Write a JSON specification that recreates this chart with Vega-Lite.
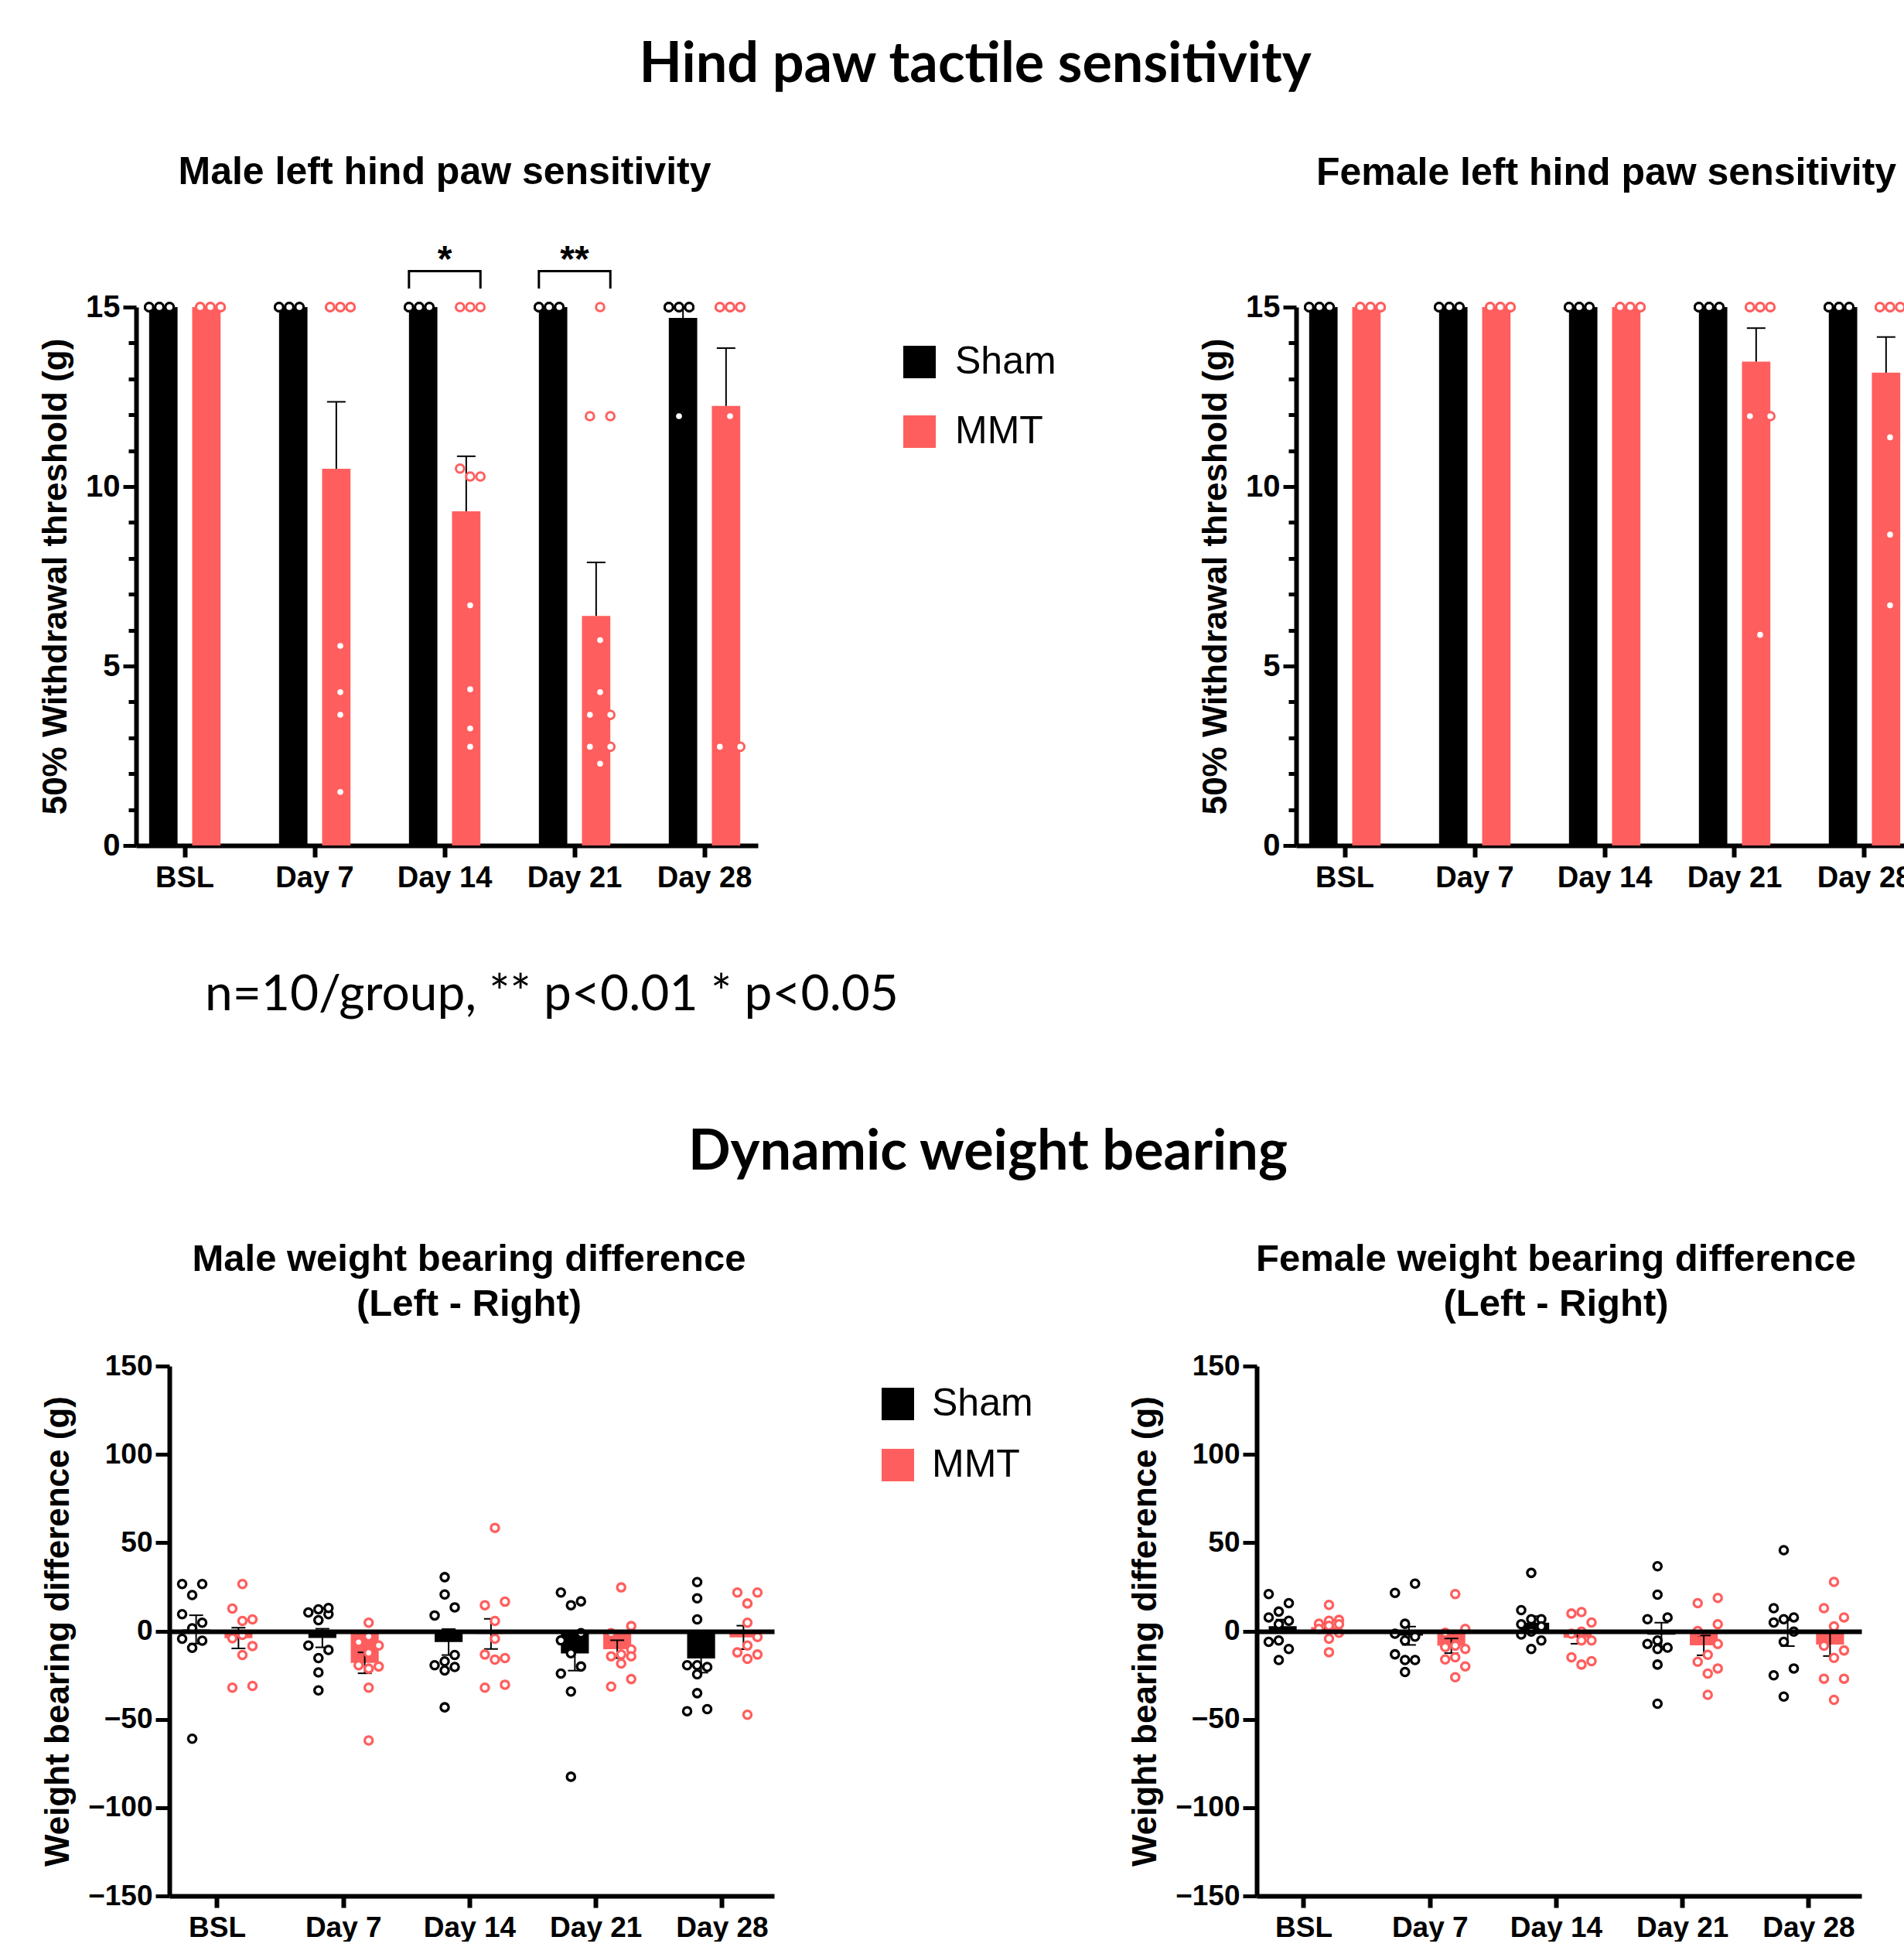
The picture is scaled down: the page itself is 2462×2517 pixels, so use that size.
{
"$schema": "https://vega.github.io/schema/vega-lite/v6.json",
"padding": {"left": 50, "top": 47, "right": 0, "bottom": 0},
"background": "white",
"title": {"text": "Hind paw tactile sensitivity", "font": "Lato", "fontSize": 72, "fontWeight": "bold", "color": "black", "anchor": "middle", "offset": 77},
"columns": 2,
"spacing": {"row": 673, "column": 624},
"bounds": "flush",
"align": "each",
"resolve": {"scale": {"x": "independent", "y": "independent", "xOffset": "independent", "color": "independent", "stroke": "independent"}, "legend": {"color": "independent", "stroke": "independent"}},
"config": {"view": {"stroke": null}, "axis": {"grid": false}, "font": "Liberation Sans"},
"datasets": {
"brackets": [
{"day": "Day 14", "group": "Sham", "y": 15.55, "k": 1},
{"day": "Day 14", "group": "Sham", "y": 16.0, "k": 2},
{"day": "Day 14", "group": "MMT", "y": 16.0, "k": 3},
{"day": "Day 14", "group": "MMT", "y": 15.55, "k": 4},
{"day": "Day 21", "group": "Sham", "y": 15.55, "k": 1},
{"day": "Day 21", "group": "Sham", "y": 16.0, "k": 2},
{"day": "Day 21", "group": "MMT", "y": 16.0, "k": 3},
{"day": "Day 21", "group": "MMT", "y": 15.55, "k": 4}
],
"stars": [
{"day": "Day 14", "label": "*", "y": 16.0},
{"day": "Day 21", "label": "**", "y": 16.0}
],
"pts": [
{"panel":"ML","day":"BSL","group":"Sham","value":15},{"panel":"ML","day":"BSL","group":"Sham","value":15},{"panel":"ML","day":"BSL","group":"Sham","value":15},{"panel":"ML","day":"BSL","group":"Sham","value":15},{"panel":"ML","day":"BSL","group":"Sham","value":15},{"panel":"ML","day":"BSL","group":"Sham","value":15},{"panel":"ML","day":"BSL","group":"Sham","value":15},{"panel":"ML","day":"BSL","group":"Sham","value":15},{"panel":"ML","day":"BSL","group":"Sham","value":15},{"panel":"ML","day":"BSL","group":"Sham","value":15},
{"panel":"ML","day":"BSL","group":"MMT","value":15},{"panel":"ML","day":"BSL","group":"MMT","value":15},{"panel":"ML","day":"BSL","group":"MMT","value":15},{"panel":"ML","day":"BSL","group":"MMT","value":15},{"panel":"ML","day":"BSL","group":"MMT","value":15},{"panel":"ML","day":"BSL","group":"MMT","value":15},{"panel":"ML","day":"BSL","group":"MMT","value":15},{"panel":"ML","day":"BSL","group":"MMT","value":15},{"panel":"ML","day":"BSL","group":"MMT","value":15},{"panel":"ML","day":"BSL","group":"MMT","value":15},
{"panel":"ML","day":"Day 7","group":"Sham","value":15},{"panel":"ML","day":"Day 7","group":"Sham","value":15},{"panel":"ML","day":"Day 7","group":"Sham","value":15},{"panel":"ML","day":"Day 7","group":"Sham","value":15},{"panel":"ML","day":"Day 7","group":"Sham","value":15},{"panel":"ML","day":"Day 7","group":"Sham","value":15},{"panel":"ML","day":"Day 7","group":"Sham","value":15},{"panel":"ML","day":"Day 7","group":"Sham","value":15},{"panel":"ML","day":"Day 7","group":"Sham","value":15},{"panel":"ML","day":"Day 7","group":"Sham","value":15},
{"panel":"ML","day":"Day 7","group":"MMT","value":15},{"panel":"ML","day":"Day 7","group":"MMT","value":15},{"panel":"ML","day":"Day 7","group":"MMT","value":15},{"panel":"ML","day":"Day 7","group":"MMT","value":15},{"panel":"ML","day":"Day 7","group":"MMT","value":15},{"panel":"ML","day":"Day 7","group":"MMT","value":15},{"panel":"ML","day":"Day 7","group":"MMT","value":5.56},{"panel":"ML","day":"Day 7","group":"MMT","value":4.27},{"panel":"ML","day":"Day 7","group":"MMT","value":3.64},{"panel":"ML","day":"Day 7","group":"MMT","value":1.49},
{"panel":"ML","day":"Day 14","group":"Sham","value":15},{"panel":"ML","day":"Day 14","group":"Sham","value":15},{"panel":"ML","day":"Day 14","group":"Sham","value":15},{"panel":"ML","day":"Day 14","group":"Sham","value":15},{"panel":"ML","day":"Day 14","group":"Sham","value":15},{"panel":"ML","day":"Day 14","group":"Sham","value":15},{"panel":"ML","day":"Day 14","group":"Sham","value":15},{"panel":"ML","day":"Day 14","group":"Sham","value":15},{"panel":"ML","day":"Day 14","group":"Sham","value":15},{"panel":"ML","day":"Day 14","group":"Sham","value":15},
{"panel":"ML","day":"Day 14","group":"MMT","value":15},{"panel":"ML","day":"Day 14","group":"MMT","value":15},{"panel":"ML","day":"Day 14","group":"MMT","value":15},{"panel":"ML","day":"Day 14","group":"MMT","value":10.5},{"panel":"ML","day":"Day 14","group":"MMT","value":10.28},{"panel":"ML","day":"Day 14","group":"MMT","value":10.28},{"panel":"ML","day":"Day 14","group":"MMT","value":6.69},{"panel":"ML","day":"Day 14","group":"MMT","value":4.35},{"panel":"ML","day":"Day 14","group":"MMT","value":3.26},{"panel":"ML","day":"Day 14","group":"MMT","value":2.75},
{"panel":"ML","day":"Day 21","group":"Sham","value":15},{"panel":"ML","day":"Day 21","group":"Sham","value":15},{"panel":"ML","day":"Day 21","group":"Sham","value":15},{"panel":"ML","day":"Day 21","group":"Sham","value":15},{"panel":"ML","day":"Day 21","group":"Sham","value":15},{"panel":"ML","day":"Day 21","group":"Sham","value":15},{"panel":"ML","day":"Day 21","group":"Sham","value":15},{"panel":"ML","day":"Day 21","group":"Sham","value":15},{"panel":"ML","day":"Day 21","group":"Sham","value":15},{"panel":"ML","day":"Day 21","group":"Sham","value":15},
{"panel":"ML","day":"Day 21","group":"MMT","value":15},{"panel":"ML","day":"Day 21","group":"MMT","value":11.96},{"panel":"ML","day":"Day 21","group":"MMT","value":11.96},{"panel":"ML","day":"Day 21","group":"MMT","value":5.72},{"panel":"ML","day":"Day 21","group":"MMT","value":4.27},{"panel":"ML","day":"Day 21","group":"MMT","value":3.64},{"panel":"ML","day":"Day 21","group":"MMT","value":3.64},{"panel":"ML","day":"Day 21","group":"MMT","value":2.75},{"panel":"ML","day":"Day 21","group":"MMT","value":2.75},{"panel":"ML","day":"Day 21","group":"MMT","value":2.28},
{"panel":"ML","day":"Day 28","group":"Sham","value":15},{"panel":"ML","day":"Day 28","group":"Sham","value":15},{"panel":"ML","day":"Day 28","group":"Sham","value":15},{"panel":"ML","day":"Day 28","group":"Sham","value":15},{"panel":"ML","day":"Day 28","group":"Sham","value":15},{"panel":"ML","day":"Day 28","group":"Sham","value":15},{"panel":"ML","day":"Day 28","group":"Sham","value":15},{"panel":"ML","day":"Day 28","group":"Sham","value":15},{"panel":"ML","day":"Day 28","group":"Sham","value":15},{"panel":"ML","day":"Day 28","group":"Sham","value":11.96},
{"panel":"ML","day":"Day 28","group":"MMT","value":15},{"panel":"ML","day":"Day 28","group":"MMT","value":15},{"panel":"ML","day":"Day 28","group":"MMT","value":15},{"panel":"ML","day":"Day 28","group":"MMT","value":15},{"panel":"ML","day":"Day 28","group":"MMT","value":15},{"panel":"ML","day":"Day 28","group":"MMT","value":15},{"panel":"ML","day":"Day 28","group":"MMT","value":15},{"panel":"ML","day":"Day 28","group":"MMT","value":11.96},{"panel":"ML","day":"Day 28","group":"MMT","value":2.75},{"panel":"ML","day":"Day 28","group":"MMT","value":2.75},
{"panel":"FL","day":"BSL","group":"Sham","value":15},{"panel":"FL","day":"BSL","group":"Sham","value":15},{"panel":"FL","day":"BSL","group":"Sham","value":15},{"panel":"FL","day":"BSL","group":"Sham","value":15},{"panel":"FL","day":"BSL","group":"Sham","value":15},{"panel":"FL","day":"BSL","group":"Sham","value":15},{"panel":"FL","day":"BSL","group":"Sham","value":15},{"panel":"FL","day":"BSL","group":"Sham","value":15},{"panel":"FL","day":"BSL","group":"Sham","value":15},{"panel":"FL","day":"BSL","group":"Sham","value":15},
{"panel":"FL","day":"BSL","group":"MMT","value":15},{"panel":"FL","day":"BSL","group":"MMT","value":15},{"panel":"FL","day":"BSL","group":"MMT","value":15},{"panel":"FL","day":"BSL","group":"MMT","value":15},{"panel":"FL","day":"BSL","group":"MMT","value":15},{"panel":"FL","day":"BSL","group":"MMT","value":15},{"panel":"FL","day":"BSL","group":"MMT","value":15},{"panel":"FL","day":"BSL","group":"MMT","value":15},{"panel":"FL","day":"BSL","group":"MMT","value":15},{"panel":"FL","day":"BSL","group":"MMT","value":15},
{"panel":"FL","day":"Day 7","group":"Sham","value":15},{"panel":"FL","day":"Day 7","group":"Sham","value":15},{"panel":"FL","day":"Day 7","group":"Sham","value":15},{"panel":"FL","day":"Day 7","group":"Sham","value":15},{"panel":"FL","day":"Day 7","group":"Sham","value":15},{"panel":"FL","day":"Day 7","group":"Sham","value":15},{"panel":"FL","day":"Day 7","group":"Sham","value":15},{"panel":"FL","day":"Day 7","group":"Sham","value":15},{"panel":"FL","day":"Day 7","group":"Sham","value":15},{"panel":"FL","day":"Day 7","group":"Sham","value":15},
{"panel":"FL","day":"Day 7","group":"MMT","value":15},{"panel":"FL","day":"Day 7","group":"MMT","value":15},{"panel":"FL","day":"Day 7","group":"MMT","value":15},{"panel":"FL","day":"Day 7","group":"MMT","value":15},{"panel":"FL","day":"Day 7","group":"MMT","value":15},{"panel":"FL","day":"Day 7","group":"MMT","value":15},{"panel":"FL","day":"Day 7","group":"MMT","value":15},{"panel":"FL","day":"Day 7","group":"MMT","value":15},{"panel":"FL","day":"Day 7","group":"MMT","value":15},{"panel":"FL","day":"Day 7","group":"MMT","value":15},
{"panel":"FL","day":"Day 14","group":"Sham","value":15},{"panel":"FL","day":"Day 14","group":"Sham","value":15},{"panel":"FL","day":"Day 14","group":"Sham","value":15},{"panel":"FL","day":"Day 14","group":"Sham","value":15},{"panel":"FL","day":"Day 14","group":"Sham","value":15},{"panel":"FL","day":"Day 14","group":"Sham","value":15},{"panel":"FL","day":"Day 14","group":"Sham","value":15},{"panel":"FL","day":"Day 14","group":"Sham","value":15},{"panel":"FL","day":"Day 14","group":"Sham","value":15},{"panel":"FL","day":"Day 14","group":"Sham","value":15},
{"panel":"FL","day":"Day 14","group":"MMT","value":15},{"panel":"FL","day":"Day 14","group":"MMT","value":15},{"panel":"FL","day":"Day 14","group":"MMT","value":15},{"panel":"FL","day":"Day 14","group":"MMT","value":15},{"panel":"FL","day":"Day 14","group":"MMT","value":15},{"panel":"FL","day":"Day 14","group":"MMT","value":15},{"panel":"FL","day":"Day 14","group":"MMT","value":15},{"panel":"FL","day":"Day 14","group":"MMT","value":15},{"panel":"FL","day":"Day 14","group":"MMT","value":15},{"panel":"FL","day":"Day 14","group":"MMT","value":15},
{"panel":"FL","day":"Day 21","group":"Sham","value":15},{"panel":"FL","day":"Day 21","group":"Sham","value":15},{"panel":"FL","day":"Day 21","group":"Sham","value":15},{"panel":"FL","day":"Day 21","group":"Sham","value":15},{"panel":"FL","day":"Day 21","group":"Sham","value":15},{"panel":"FL","day":"Day 21","group":"Sham","value":15},{"panel":"FL","day":"Day 21","group":"Sham","value":15},{"panel":"FL","day":"Day 21","group":"Sham","value":15},{"panel":"FL","day":"Day 21","group":"Sham","value":15},{"panel":"FL","day":"Day 21","group":"Sham","value":15},
{"panel":"FL","day":"Day 21","group":"MMT","value":15},{"panel":"FL","day":"Day 21","group":"MMT","value":15},{"panel":"FL","day":"Day 21","group":"MMT","value":15},{"panel":"FL","day":"Day 21","group":"MMT","value":15},{"panel":"FL","day":"Day 21","group":"MMT","value":15},{"panel":"FL","day":"Day 21","group":"MMT","value":15},{"panel":"FL","day":"Day 21","group":"MMT","value":15},{"panel":"FL","day":"Day 21","group":"MMT","value":11.96},{"panel":"FL","day":"Day 21","group":"MMT","value":11.96},{"panel":"FL","day":"Day 21","group":"MMT","value":5.87},
{"panel":"FL","day":"Day 28","group":"Sham","value":15},{"panel":"FL","day":"Day 28","group":"Sham","value":15},{"panel":"FL","day":"Day 28","group":"Sham","value":15},{"panel":"FL","day":"Day 28","group":"Sham","value":15},{"panel":"FL","day":"Day 28","group":"Sham","value":15},{"panel":"FL","day":"Day 28","group":"Sham","value":15},{"panel":"FL","day":"Day 28","group":"Sham","value":15},{"panel":"FL","day":"Day 28","group":"Sham","value":15},{"panel":"FL","day":"Day 28","group":"Sham","value":15},{"panel":"FL","day":"Day 28","group":"Sham","value":15},
{"panel":"FL","day":"Day 28","group":"MMT","value":15},{"panel":"FL","day":"Day 28","group":"MMT","value":15},{"panel":"FL","day":"Day 28","group":"MMT","value":15},{"panel":"FL","day":"Day 28","group":"MMT","value":15},{"panel":"FL","day":"Day 28","group":"MMT","value":15},{"panel":"FL","day":"Day 28","group":"MMT","value":15},{"panel":"FL","day":"Day 28","group":"MMT","value":15},{"panel":"FL","day":"Day 28","group":"MMT","value":11.37},{"panel":"FL","day":"Day 28","group":"MMT","value":8.66},{"panel":"FL","day":"Day 28","group":"MMT","value":6.69},
{"panel":"MW","day":"BSL","group":"Sham","value":26.6},{"panel":"MW","day":"BSL","group":"Sham","value":26.6},{"panel":"MW","day":"BSL","group":"Sham","value":20.4},{"panel":"MW","day":"BSL","group":"Sham","value":9.5},{"panel":"MW","day":"BSL","group":"Sham","value":4.7},{"panel":"MW","day":"BSL","group":"Sham","value":1.5},{"panel":"MW","day":"BSL","group":"Sham","value":-4.4},{"panel":"MW","day":"BSL","group":"Sham","value":-5.5},{"panel":"MW","day":"BSL","group":"Sham","value":-9.5},{"panel":"MW","day":"BSL","group":"Sham","value":-61.0},
{"panel":"MW","day":"BSL","group":"MMT","value":26.6},{"panel":"MW","day":"BSL","group":"MMT","value":12.7},{"panel":"MW","day":"BSL","group":"MMT","value":5.7},{"panel":"MW","day":"BSL","group":"MMT","value":6.6},{"panel":"MW","day":"BSL","group":"MMT","value":-2.2},{"panel":"MW","day":"BSL","group":"MMT","value":-4.1},{"panel":"MW","day":"BSL","group":"MMT","value":-8.5},{"panel":"MW","day":"BSL","group":"MMT","value":-13.6},{"panel":"MW","day":"BSL","group":"MMT","value":-32.1},{"panel":"MW","day":"BSL","group":"MMT","value":-31.1},
{"panel":"MW","day":"Day 7","group":"Sham","value":9.5},{"panel":"MW","day":"Day 7","group":"Sham","value":13.0},{"panel":"MW","day":"Day 7","group":"Sham","value":12.3},{"panel":"MW","day":"Day 7","group":"Sham","value":10.5},{"panel":"MW","day":"Day 7","group":"Sham","value":6.1},{"panel":"MW","day":"Day 7","group":"Sham","value":-8.2},{"panel":"MW","day":"Day 7","group":"Sham","value":-10.7},{"panel":"MW","day":"Day 7","group":"Sham","value":-15.3},{"panel":"MW","day":"Day 7","group":"Sham","value":-23.4},{"panel":"MW","day":"Day 7","group":"Sham","value":-33.6},
{"panel":"MW","day":"Day 7","group":"MMT","value":4.7},{"panel":"MW","day":"Day 7","group":"MMT","value":-3.1},{"panel":"MW","day":"Day 7","group":"MMT","value":-8.2},{"panel":"MW","day":"Day 7","group":"MMT","value":-6.3},{"panel":"MW","day":"Day 7","group":"MMT","value":-12.4},{"panel":"MW","day":"Day 7","group":"MMT","value":-19.4},{"panel":"MW","day":"Day 7","group":"MMT","value":-21.3},{"panel":"MW","day":"Day 7","group":"MMT","value":-20.1},{"panel":"MW","day":"Day 7","group":"MMT","value":-32.1},{"panel":"MW","day":"Day 7","group":"MMT","value":-62.0},
{"panel":"MW","day":"Day 14","group":"Sham","value":30.5},{"panel":"MW","day":"Day 14","group":"Sham","value":20.7},{"panel":"MW","day":"Day 14","group":"Sham","value":13.4},{"panel":"MW","day":"Day 14","group":"Sham","value":8.8},{"panel":"MW","day":"Day 14","group":"Sham","value":-13.6},{"panel":"MW","day":"Day 14","group":"Sham","value":-17.2},{"panel":"MW","day":"Day 14","group":"Sham","value":-20.4},{"panel":"MW","day":"Day 14","group":"Sham","value":-19.4},{"panel":"MW","day":"Day 14","group":"Sham","value":-22.3},{"panel":"MW","day":"Day 14","group":"Sham","value":-43.2},
{"panel":"MW","day":"Day 14","group":"MMT","value":58.4},{"panel":"MW","day":"Day 14","group":"MMT","value":16.6},{"panel":"MW","day":"Day 14","group":"MMT","value":14.6},{"panel":"MW","day":"Day 14","group":"MMT","value":5.7},{"panel":"MW","day":"Day 14","group":"MMT","value":-4.4},{"panel":"MW","day":"Day 14","group":"MMT","value":-15.3},{"panel":"MW","day":"Day 14","group":"MMT","value":-13.3},{"panel":"MW","day":"Day 14","group":"MMT","value":-16.2},{"panel":"MW","day":"Day 14","group":"MMT","value":-32.1},{"panel":"MW","day":"Day 14","group":"MMT","value":-30.4},
{"panel":"MW","day":"Day 21","group":"Sham","value":21.8},{"panel":"MW","day":"Day 21","group":"Sham","value":14.6},{"panel":"MW","day":"Day 21","group":"Sham","value":16.8},{"panel":"MW","day":"Day 21","group":"Sham","value":-1.2},{"panel":"MW","day":"Day 21","group":"Sham","value":-5.3},{"panel":"MW","day":"Day 21","group":"Sham","value":-12.6},{"panel":"MW","day":"Day 21","group":"Sham","value":-20.1},{"panel":"MW","day":"Day 21","group":"Sham","value":-24.1},{"panel":"MW","day":"Day 21","group":"Sham","value":-34.3},{"panel":"MW","day":"Day 21","group":"Sham","value":-82.5},
{"panel":"MW","day":"Day 21","group":"MMT","value":24.7},{"panel":"MW","day":"Day 21","group":"MMT","value":2.8},{"panel":"MW","day":"Day 21","group":"MMT","value":-1.2},{"panel":"MW","day":"Day 21","group":"MMT","value":-10.4},{"panel":"MW","day":"Day 21","group":"MMT","value":-14.3},{"panel":"MW","day":"Day 21","group":"MMT","value":-14.3},{"panel":"MW","day":"Day 21","group":"MMT","value":-13.3},{"panel":"MW","day":"Day 21","group":"MMT","value":-18.4},{"panel":"MW","day":"Day 21","group":"MMT","value":-27.2},{"panel":"MW","day":"Day 21","group":"MMT","value":-31.4},
{"panel":"MW","day":"Day 28","group":"Sham","value":27.7},{"panel":"MW","day":"Day 28","group":"Sham","value":18.5},{"panel":"MW","day":"Day 28","group":"Sham","value":6.6},{"panel":"MW","day":"Day 28","group":"Sham","value":-19.4},{"panel":"MW","day":"Day 28","group":"Sham","value":-20.4},{"panel":"MW","day":"Day 28","group":"Sham","value":-19.4},{"panel":"MW","day":"Day 28","group":"Sham","value":-24.5},{"panel":"MW","day":"Day 28","group":"Sham","value":-35.2},{"panel":"MW","day":"Day 28","group":"Sham","value":-45.4},{"panel":"MW","day":"Day 28","group":"Sham","value":-44.2},
{"panel":"MW","day":"Day 28","group":"MMT","value":21.8},{"panel":"MW","day":"Day 28","group":"MMT","value":21.8},{"panel":"MW","day":"Day 28","group":"MMT","value":15.6},{"panel":"MW","day":"Day 28","group":"MMT","value":4.7},{"panel":"MW","day":"Day 28","group":"MMT","value":-3.4},{"panel":"MW","day":"Day 28","group":"MMT","value":-8.2},{"panel":"MW","day":"Day 28","group":"MMT","value":-12.1},{"panel":"MW","day":"Day 28","group":"MMT","value":-15.8},{"panel":"MW","day":"Day 28","group":"MMT","value":-13.3},{"panel":"MW","day":"Day 28","group":"MMT","value":-47.4},
{"panel":"FW","day":"BSL","group":"Sham","value":20.9},{"panel":"FW","day":"BSL","group":"Sham","value":15.8},{"panel":"FW","day":"BSL","group":"Sham","value":11.0},{"panel":"FW","day":"BSL","group":"Sham","value":7.7},{"panel":"FW","day":"BSL","group":"Sham","value":5.8},{"panel":"FW","day":"BSL","group":"Sham","value":3.8},{"panel":"FW","day":"BSL","group":"Sham","value":-5.4},{"panel":"FW","day":"BSL","group":"Sham","value":-6.1},{"panel":"FW","day":"BSL","group":"Sham","value":-10.2},{"panel":"FW","day":"BSL","group":"Sham","value":-16.4},
{"panel":"FW","day":"BSL","group":"MMT","value":14.8},{"panel":"FW","day":"BSL","group":"MMT","value":5.8},{"panel":"FW","day":"BSL","group":"MMT","value":6.3},{"panel":"FW","day":"BSL","group":"MMT","value":3.8},{"panel":"FW","day":"BSL","group":"MMT","value":4.1},{"panel":"FW","day":"BSL","group":"MMT","value":1.2},{"panel":"FW","day":"BSL","group":"MMT","value":-1.0},{"panel":"FW","day":"BSL","group":"MMT","value":-4.4},{"panel":"FW","day":"BSL","group":"MMT","value":-12.0},{"panel":"FW","day":"BSL","group":"MMT","value":3.0},
{"panel":"FW","day":"Day 7","group":"Sham","value":21.6},{"panel":"FW","day":"Day 7","group":"Sham","value":26.8},{"panel":"FW","day":"Day 7","group":"Sham","value":4.1},{"panel":"FW","day":"Day 7","group":"Sham","value":-1.5},{"panel":"FW","day":"Day 7","group":"Sham","value":-3.2},{"panel":"FW","day":"Day 7","group":"Sham","value":-5.4},{"panel":"FW","day":"Day 7","group":"Sham","value":-13.2},{"panel":"FW","day":"Day 7","group":"Sham","value":-16.4},{"panel":"FW","day":"Day 7","group":"Sham","value":-16.4},{"panel":"FW","day":"Day 7","group":"Sham","value":-23.2},
{"panel":"FW","day":"Day 7","group":"MMT","value":20.9},{"panel":"FW","day":"Day 7","group":"MMT","value":1.2},{"panel":"FW","day":"Day 7","group":"MMT","value":-1.0},{"panel":"FW","day":"Day 7","group":"MMT","value":-10.2},{"panel":"FW","day":"Day 7","group":"MMT","value":-9.1},{"panel":"FW","day":"Day 7","group":"MMT","value":-8.3},{"panel":"FW","day":"Day 7","group":"MMT","value":-14.9},{"panel":"FW","day":"Day 7","group":"MMT","value":-16.1},{"panel":"FW","day":"Day 7","group":"MMT","value":-20.0},{"panel":"FW","day":"Day 7","group":"MMT","value":-26.2},
{"panel":"FW","day":"Day 14","group":"Sham","value":32.9},{"panel":"FW","day":"Day 14","group":"Sham","value":11.8},{"panel":"FW","day":"Day 14","group":"Sham","value":6.7},{"panel":"FW","day":"Day 14","group":"Sham","value":6.7},{"panel":"FW","day":"Day 14","group":"Sham","value":3.8},{"panel":"FW","day":"Day 14","group":"Sham","value":2.6},{"panel":"FW","day":"Day 14","group":"Sham","value":-2.0},{"panel":"FW","day":"Day 14","group":"Sham","value":-0.3},{"panel":"FW","day":"Day 14","group":"Sham","value":-5.4},{"panel":"FW","day":"Day 14","group":"Sham","value":-10.2},
{"panel":"FW","day":"Day 14","group":"MMT","value":10.7},{"panel":"FW","day":"Day 14","group":"MMT","value":9.9},{"panel":"FW","day":"Day 14","group":"MMT","value":4.8},{"panel":"FW","day":"Day 14","group":"MMT","value":-0.3},{"panel":"FW","day":"Day 14","group":"MMT","value":-1.5},{"panel":"FW","day":"Day 14","group":"MMT","value":-5.4},{"panel":"FW","day":"Day 14","group":"MMT","value":-5.4},{"panel":"FW","day":"Day 14","group":"MMT","value":-14.9},{"panel":"FW","day":"Day 14","group":"MMT","value":-17.1},{"panel":"FW","day":"Day 14","group":"MMT","value":-19.0},
{"panel":"FW","day":"Day 21","group":"Sham","value":36.7},{"panel":"FW","day":"Day 21","group":"Sham","value":20.6},{"panel":"FW","day":"Day 21","group":"Sham","value":7.7},{"panel":"FW","day":"Day 21","group":"Sham","value":6.7},{"panel":"FW","day":"Day 21","group":"Sham","value":-5.4},{"panel":"FW","day":"Day 21","group":"Sham","value":-7.3},{"panel":"FW","day":"Day 21","group":"Sham","value":-9.4},{"panel":"FW","day":"Day 21","group":"Sham","value":-10.2},{"panel":"FW","day":"Day 21","group":"Sham","value":-19.0},{"panel":"FW","day":"Day 21","group":"Sham","value":-41.2},
{"panel":"FW","day":"Day 21","group":"MMT","value":18.7},{"panel":"FW","day":"Day 21","group":"MMT","value":15.8},{"panel":"FW","day":"Day 21","group":"MMT","value":3.8},{"panel":"FW","day":"Day 21","group":"MMT","value":0.0},{"panel":"FW","day":"Day 21","group":"MMT","value":-7.3},{"panel":"FW","day":"Day 21","group":"MMT","value":-13.5},{"panel":"FW","day":"Day 21","group":"MMT","value":-17.4},{"panel":"FW","day":"Day 21","group":"MMT","value":-21.2},{"panel":"FW","day":"Day 21","group":"MMT","value":-24.1},{"panel":"FW","day":"Day 21","group":"MMT","value":-36.1},
{"panel":"FW","day":"Day 28","group":"Sham","value":45.8},{"panel":"FW","day":"Day 28","group":"Sham","value":12.9},{"panel":"FW","day":"Day 28","group":"Sham","value":4.8},{"panel":"FW","day":"Day 28","group":"Sham","value":6.7},{"panel":"FW","day":"Day 28","group":"Sham","value":7.7},{"panel":"FW","day":"Day 28","group":"Sham","value":-0.3},{"panel":"FW","day":"Day 28","group":"Sham","value":-6.1},{"panel":"FW","day":"Day 28","group":"Sham","value":-21.2},{"panel":"FW","day":"Day 28","group":"Sham","value":-25.1},{"panel":"FW","day":"Day 28","group":"Sham","value":-37.1},
{"panel":"FW","day":"Day 28","group":"MMT","value":27.8},{"panel":"FW","day":"Day 28","group":"MMT","value":12.9},{"panel":"FW","day":"Day 28","group":"MMT","value":7.7},{"panel":"FW","day":"Day 28","group":"MMT","value":2.6},{"panel":"FW","day":"Day 28","group":"MMT","value":-11.0},{"panel":"FW","day":"Day 28","group":"MMT","value":-8.3},{"panel":"FW","day":"Day 28","group":"MMT","value":-15.2},{"panel":"FW","day":"Day 28","group":"MMT","value":-27.0},{"panel":"FW","day":"Day 28","group":"MMT","value":-27.0},{"panel":"FW","day":"Day 28","group":"MMT","value":-39.0}
]
},
"concat": [
{
"width": 804, "height": 696,
"title": {"text": "Male left hind paw sensitivity", "font": "Liberation Sans", "fontSize": 50, "fontWeight": "bold", "color": "black", "anchor": "middle", "frame": "group", "offset": 65, "dx": -3},
"data": {"name": "pts"},
"resolve": {"scale": {"xOffset": "independent"}},
"layer": [
{"transform": [{"filter": "datum.panel === 'ML'"}],
 "mark": {"type": "bar"},
 "encoding": {
  "x": {"field": "day", "type": "nominal", "sort": null, "scale": {"type": "band", "domain": ["BSL","Day 7","Day 14","Day 21","Day 28"], "range": [0, 804], "paddingInner": 0.45, "paddingOuter": 0.118, "align": 0.425},
   "axis": {"title": "n=10/group, ** p<0.01 * p<0.05", "titleFont": "Lato", "titleFontSize": 64, "titleFontWeight": "normal", "titleColor": "black", "titleX": 537, "titleY": 212, "titleAlign": "center", "titleBaseline": "alphabetic", "labelFont": "Liberation Sans", "labelFontSize": 38, "labelFontWeight": "bold", "labelColor": "black", "labelAngle": 0, "labelPadding": 8, "tickSize": 15, "tickWidth": 6, "tickColor": "black", "domainWidth": 6, "domainColor": "black"}},
  "xOffset": {"field": "group", "type": "nominal", "sort": null, "scale": {"domain": ["Sham","MMT"], "paddingInner": 0.34, "paddingOuter": 0}},
  "y": {"aggregate": "mean", "field": "value", "type": "quantitative", "scale": {"domain": [0, 15], "nice": false},
   "axis": {"title": "50% Withdrawal threshold (g)", "values": [0,1,2,3,4,5,6,7,8,9,10,11,12,13,14,15], "labelExpr": "datum.value % 5 === 0 ? datum.label : ''", "labelOverlap": false, "tickSize": {"condition": {"test": "datum.value % 5 === 0", "value": 17}, "value": 10}, "tickWidth": 5, "tickColor": "black", "domainWidth": 6, "domainColor": "black", "labelFont": "Liberation Sans", "labelFontWeight": "bold", "labelFontSize": 40, "labelColor": "black", "labelPadding": 4, "titleFont": "Liberation Sans", "titleFontSize": 44, "titleFontWeight": "bold", "titleColor": "black", "titlePadding": 16}},
  "color": {"field": "group", "type": "nominal", "scale": {"domain": ["Sham","MMT"], "range": ["#000000","#FF5E5E"]},
   "legend": {"orient": "none", "legendX": 988, "legendY": 46, "direction": "vertical", "title": null, "symbolType": "square", "symbolSize": 1764, "symbolStrokeWidth": 0, "symbolOpacity": 1, "labelFont": "Liberation Sans", "labelFontSize": 50, "labelColor": "black", "labelOffset": 21, "rowPadding": 40, "padding": 0}}
 }},
{"transform": [{"filter": "datum.panel === 'ML'"}, {"aggregate": [{"op": "mean", "field": "value", "as": "m"}, {"op": "stderr", "field": "value", "as": "se"}], "groupby": ["day","group"]}, {"calculate": "datum.m + datum.se", "as": "hi"}],
 "mark": {"type": "rule", "color": "black", "strokeWidth": 2},
 "encoding": {
  "x": {"field": "day", "type": "nominal", "sort": null},
  "xOffset": {"field": "group", "type": "nominal", "sort": null, "scale": {"domain": ["Sham","MMT"], "paddingInner": 0.34, "paddingOuter": 0}},
  "y": {"field": "m", "type": "quantitative"},
  "y2": {"field": "hi"}
 }},
{"transform": [{"filter": "datum.panel === 'ML'"}, {"aggregate": [{"op": "mean", "field": "value", "as": "m"}, {"op": "stderr", "field": "value", "as": "se"}], "groupby": ["day","group"]}, {"calculate": "datum.m + datum.se", "as": "hi"}],
 "mark": {"type": "tick", "color": "black", "thickness": 2, "opacity": 1},
 "encoding": {
  "x": {"field": "day", "type": "nominal", "sort": null},
  "xOffset": {"field": "group", "type": "nominal", "sort": null, "scale": {"domain": ["Sham","MMT"], "paddingInner": 0.34, "paddingOuter": 0}},
  "y": {"field": "hi", "type": "quantitative"},
  "size": {"value": 24}
 }},
{"data": {"name": "brackets"},
 "mark": {"type": "line", "color": "black", "strokeWidth": 3, "strokeCap": "square"},
 "encoding": {
  "x": {"field": "day", "type": "nominal", "sort": null},
  "xOffset": {"field": "group", "type": "nominal", "sort": null, "scale": {"domain": ["Sham","MMT"], "paddingInner": 0.34, "paddingOuter": 0}},
  "y": {"field": "y", "type": "quantitative"},
  "detail": {"field": "day"},
  "order": {"field": "k", "type": "quantitative"}
 }},
{"data": {"name": "stars"},
 "mark": {"type": "text", "font": "Liberation Sans", "fontSize": 48, "fontWeight": "bold", "color": "black", "baseline": "alphabetic", "align": "center"},
 "encoding": {
  "x": {"field": "day", "type": "nominal", "sort": null},
  "y": {"field": "y", "type": "quantitative"},
  "text": {"field": "label"}
 }},
{"transform": [{"filter": "datum.panel === 'ML'"},
  {"window": [{"op": "lag", "field": "value", "param": 1, "as": "prev"}], "groupby": ["day","group"], "sort": [{"field": "value", "order": "ascending"}]},
  {"calculate": "datum.prev == null || datum.value - datum.prev > 0.33 ? 1 : 0", "as": "brk"},
  {"window": [{"op": "sum", "field": "brk", "as": "run"}], "groupby": ["day","group"], "sort": [{"field": "value", "order": "ascending"}]},
  {"window": [{"op": "row_number", "as": "k"}], "groupby": ["day","group","run"], "sort": [{"field": "value", "order": "ascending"}]},
  {"joinaggregate": [{"op": "count", "as": "n"}], "groupby": ["day","group","run"]},
  {"calculate": "datum.group + '|' + (datum.n == 2 ? (datum.k == 1 ? 'l' : 'r') : ['c','r','l'][(datum.k - 1) % 3])", "as": "slot"}],
 "mark": {"type": "circle", "fill": "white", "strokeWidth": 3, "size": 113, "opacity": 1},
 "encoding": {
  "x": {"field": "day", "type": "nominal", "sort": null},
  "xOffset": {"field": "slot", "type": "nominal", "sort": null, "scale": {"domain": ["Sham|l","Sham|c","Sham|r","g1","g2","MMT|l","MMT|c","MMT|r"], "paddingInner": 0, "paddingOuter": 0}},
  "y": {"field": "value", "type": "quantitative"},
  "stroke": {"field": "group", "type": "nominal", "scale": {"domain": ["Sham","MMT"], "range": ["#000000","#FF5E5E"]}, "legend": null}
 }}
]
},
{
"width": 838, "height": 696,
"title": {"text": "Female left hind paw sensitivity", "font": "Liberation Sans", "fontSize": 50, "fontWeight": "bold", "color": "black", "anchor": "middle", "frame": "group", "offset": 128, "dx": 33},
"data": {"name": "pts"},
"resolve": {"scale": {"xOffset": "independent"}},
"layer": [
{"transform": [{"filter": "datum.panel === 'FL'"}],
 "mark": {"type": "bar"},
 "encoding": {
  "x": {"field": "day", "type": "nominal", "sort": null, "scale": {"type": "band", "domain": ["BSL","Day 7","Day 14","Day 21","Day 28"], "range": [51, 838], "paddingInner": 0.45, "paddingOuter": 0.0675, "align": 0.743},
   "axis": {"title": "Dynamic weight bearing", "titleFont": "Lato", "titleFontSize": 72, "titleFontWeight": "bold", "titleColor": "black", "titleX": -348, "titleY": 418, "titleAlign": "center", "titleBaseline": "alphabetic", "labelFont": "Liberation Sans", "labelFontSize": 38, "labelFontWeight": "bold", "labelColor": "black", "labelAngle": 0, "labelPadding": 8, "tickSize": 15, "tickWidth": 6, "tickColor": "black", "domainWidth": 6, "domainColor": "black"}},
  "xOffset": {"field": "group", "type": "nominal", "sort": null, "scale": {"domain": ["Sham","MMT"], "paddingInner": 0.34, "paddingOuter": 0}},
  "y": {"aggregate": "mean", "field": "value", "type": "quantitative", "scale": {"domain": [0, 15], "nice": false},
   "axis": {"title": "50% Withdrawal threshold (g)", "offset": -51, "values": [0,1,2,3,4,5,6,7,8,9,10,11,12,13,14,15], "labelExpr": "datum.value % 5 === 0 ? datum.label : ''", "labelOverlap": false, "tickSize": {"condition": {"test": "datum.value % 5 === 0", "value": 17}, "value": 10}, "tickWidth": 5, "tickColor": "black", "domainWidth": 6, "domainColor": "black", "labelFont": "Liberation Sans", "labelFontWeight": "bold", "labelFontSize": 40, "labelColor": "black", "labelPadding": 4, "titleFont": "Liberation Sans", "titleFontSize": 44, "titleFontWeight": "bold", "titleColor": "black", "titlePadding": 16}},
  "color": {"field": "group", "type": "nominal", "scale": {"domain": ["Sham","MMT"], "range": ["#000000","#FF5E5E"]}, "legend": null}
 }},
{"transform": [{"filter": "datum.panel === 'FL'"}, {"aggregate": [{"op": "mean", "field": "value", "as": "m"}, {"op": "stderr", "field": "value", "as": "se"}], "groupby": ["day","group"]}, {"calculate": "datum.m + datum.se", "as": "hi"}],
 "mark": {"type": "rule", "color": "black", "strokeWidth": 2},
 "encoding": {
  "x": {"field": "day", "type": "nominal", "sort": null},
  "xOffset": {"field": "group", "type": "nominal", "sort": null, "scale": {"domain": ["Sham","MMT"], "paddingInner": 0.34, "paddingOuter": 0}},
  "y": {"field": "m", "type": "quantitative"},
  "y2": {"field": "hi"}
 }},
{"transform": [{"filter": "datum.panel === 'FL'"}, {"aggregate": [{"op": "mean", "field": "value", "as": "m"}, {"op": "stderr", "field": "value", "as": "se"}], "groupby": ["day","group"]}, {"calculate": "datum.m + datum.se", "as": "hi"}],
 "mark": {"type": "tick", "color": "black", "thickness": 2, "opacity": 1},
 "encoding": {
  "x": {"field": "day", "type": "nominal", "sort": null},
  "xOffset": {"field": "group", "type": "nominal", "sort": null, "scale": {"domain": ["Sham","MMT"], "paddingInner": 0.34, "paddingOuter": 0}},
  "y": {"field": "hi", "type": "quantitative"},
  "size": {"value": 24}
 }},
{"transform": [{"filter": "datum.panel === 'FL'"},
  {"window": [{"op": "lag", "field": "value", "param": 1, "as": "prev"}], "groupby": ["day","group"], "sort": [{"field": "value", "order": "ascending"}]},
  {"calculate": "datum.prev == null || datum.value - datum.prev > 0.33 ? 1 : 0", "as": "brk"},
  {"window": [{"op": "sum", "field": "brk", "as": "run"}], "groupby": ["day","group"], "sort": [{"field": "value", "order": "ascending"}]},
  {"window": [{"op": "row_number", "as": "k"}], "groupby": ["day","group","run"], "sort": [{"field": "value", "order": "ascending"}]},
  {"joinaggregate": [{"op": "count", "as": "n"}], "groupby": ["day","group","run"]},
  {"calculate": "datum.group + '|' + (datum.n == 2 ? (datum.k == 1 ? 'l' : 'r') : ['c','r','l'][(datum.k - 1) % 3])", "as": "slot"}],
 "mark": {"type": "circle", "fill": "white", "strokeWidth": 3, "size": 113, "opacity": 1},
 "encoding": {
  "x": {"field": "day", "type": "nominal", "sort": null},
  "xOffset": {"field": "slot", "type": "nominal", "sort": null, "scale": {"domain": ["Sham|l","Sham|c","Sham|r","g1","g2","MMT|l","MMT|c","MMT|r"], "paddingInner": 0, "paddingOuter": 0}},
  "y": {"field": "value", "type": "quantitative"},
  "stroke": {"field": "group", "type": "nominal", "scale": {"domain": ["Sham","MMT"], "range": ["#000000","#FF5E5E"]}, "legend": null}
 }}
]
},
{
"width": 825, "height": 685,
"title": {"text": ["Male weight bearing difference", "(Left - Right)"], "lineHeight": 58, "font": "Liberation Sans", "fontSize": 49, "fontWeight": "bold", "color": "black", "anchor": "middle", "frame": "group", "offset": 36, "dx": 18},
"data": {"name": "pts"},
"resolve": {"scale": {"xOffset": "independent"}},
"layer": [
{"transform": [{"filter": "datum.panel === 'MW'"}],
 "mark": {"type": "bar"},
 "encoding": {
  "x": {"field": "day", "type": "nominal", "sort": null, "scale": {"type": "band", "domain": ["BSL","Day 7","Day 14","Day 21","Day 28"], "range": [43, 825], "paddingInner": 0.443, "paddingOuter": 0.1166, "align": 0.434},
   "axis": {"title": null, "labelFont": "Liberation Sans", "labelFontSize": 37, "labelFontWeight": "bold", "labelColor": "black", "labelAngle": 0, "labelPadding": 8, "tickSize": 15, "tickWidth": 6, "tickColor": "black", "domainWidth": 6, "domainColor": "black"}},
  "xOffset": {"field": "group", "type": "nominal", "sort": null, "scale": {"domain": ["Sham","MMT"], "paddingInner": 0.34, "paddingOuter": 0}},
  "y": {"aggregate": "mean", "field": "value", "type": "quantitative", "scale": {"domain": [-150, 150], "nice": false},
   "axis": {"title": "Weight bearing difference (g)", "offset": -43, "zindex": 1, "values": [-150,-100,-50,0,50,100,150], "labelOverlap": false, "grid": true, "gridColor": "black", "gridWidth": 6, "gridOpacity": {"condition": {"test": "datum.value === 0", "value": 1}, "value": 0}, "tickSize": 18, "tickWidth": 5, "tickColor": "black", "domainWidth": 6, "domainColor": "black", "labelFont": "Liberation Sans", "labelFontWeight": "bold", "labelFontSize": 37, "labelColor": "black", "labelPadding": 4, "titleFont": "Liberation Sans", "titleFontSize": 44, "titleFontWeight": "bold", "titleColor": "black", "titlePadding": 16}},
  "color": {"field": "group", "type": "nominal", "scale": {"domain": ["Sham","MMT"], "range": ["#000000","#FF5E5E"]},
   "legend": {"orient": "none", "legendX": 960, "legendY": 24, "direction": "vertical", "title": null, "symbolType": "square", "symbolSize": 1764, "symbolStrokeWidth": 0, "symbolOpacity": 1, "labelFont": "Liberation Sans", "labelFontSize": 50, "labelColor": "black", "labelOffset": 19, "rowPadding": 29, "padding": 0}}
 }},
{"transform": [{"filter": "datum.panel === 'MW'"}, {"aggregate": [{"op": "mean", "field": "value", "as": "m"}, {"op": "stderr", "field": "value", "as": "se"}], "groupby": ["day","group"]}, {"calculate": "datum.m + datum.se", "as": "hi"}, {"calculate": "datum.m - datum.se", "as": "lo"}],
 "mark": {"type": "rule", "color": "black", "strokeWidth": 2},
 "encoding": {
  "x": {"field": "day", "type": "nominal", "sort": null},
  "xOffset": {"field": "group", "type": "nominal", "sort": null, "scale": {"domain": ["Sham","MMT"], "paddingInner": 0.34, "paddingOuter": 0}},
  "y": {"field": "lo", "type": "quantitative"},
  "y2": {"field": "hi"}
 }},
{"transform": [{"filter": "datum.panel === 'MW'"}, {"aggregate": [{"op": "mean", "field": "value", "as": "m"}, {"op": "stderr", "field": "value", "as": "se"}], "groupby": ["day","group"]}, {"calculate": "datum.m + datum.se", "as": "hi"}, {"calculate": "datum.m - datum.se", "as": "lo"}, {"fold": ["hi","lo"], "as": ["end","ev"]}],
 "mark": {"type": "tick", "color": "black", "thickness": 2, "opacity": 1},
 "encoding": {
  "x": {"field": "day", "type": "nominal", "sort": null},
  "xOffset": {"field": "group", "type": "nominal", "sort": null, "scale": {"domain": ["Sham","MMT"], "paddingInner": 0.34, "paddingOuter": 0}},
  "y": {"field": "ev", "type": "quantitative"},
  "size": {"value": 18}
 }},
{"transform": [{"filter": "datum.panel === 'MW'"},
  {"window": [{"op": "lag", "field": "value", "param": 1, "as": "prev"}], "groupby": ["day","group"], "sort": [{"field": "value", "order": "ascending"}]},
  {"calculate": "datum.prev == null || datum.value - datum.prev > 6.5 ? 1 : 0", "as": "brk"},
  {"window": [{"op": "sum", "field": "brk", "as": "run"}], "groupby": ["day","group"], "sort": [{"field": "value", "order": "ascending"}]},
  {"window": [{"op": "row_number", "as": "k"}], "groupby": ["day","group","run"], "sort": [{"field": "value", "order": "ascending"}]},
  {"joinaggregate": [{"op": "count", "as": "n"}], "groupby": ["day","group","run"]},
  {"calculate": "datum.group + '|' + (datum.n == 2 ? (datum.k == 1 ? 'l' : 'r') : ['c','r','l'][(datum.k - 1) % 3])", "as": "slot"}],
 "mark": {"type": "circle", "fill": "white", "strokeWidth": 3.3, "size": 105, "opacity": 1},
 "encoding": {
  "x": {"field": "day", "type": "nominal", "sort": null},
  "xOffset": {"field": "slot", "type": "nominal", "sort": null, "scale": {"domain": ["Sham|l","Sham|c","Sham|r","g1","g2","MMT|l","MMT|c","MMT|r"], "paddingInner": 0, "paddingOuter": 0}},
  "y": {"field": "value", "type": "quantitative"},
  "stroke": {"field": "group", "type": "nominal", "scale": {"domain": ["Sham","MMT"], "range": ["#000000","#FF5E5E"]}, "legend": null}
 }}
]
},
{
"width": 782, "height": 685,
"title": {"text": ["Female weight bearing difference", "(Left - Right)"], "lineHeight": 58, "font": "Liberation Sans", "fontSize": 49, "fontWeight": "bold", "color": "black", "anchor": "middle", "frame": "group", "offset": 36, "dx": -4},
"data": {"name": "pts"},
"resolve": {"scale": {"xOffset": "independent"}},
"layer": [
{"transform": [{"filter": "datum.panel === 'FW'"}],
 "mark": {"type": "bar"},
 "encoding": {
  "x": {"field": "day", "type": "nominal", "sort": null, "scale": {"type": "band", "domain": ["BSL","Day 7","Day 14","Day 21","Day 28"], "range": [0, 782], "paddingInner": 0.443, "paddingOuter": 0.1166, "align": 0.408},
   "axis": {"title": null, "labelFont": "Liberation Sans", "labelFontSize": 37, "labelFontWeight": "bold", "labelColor": "black", "labelAngle": 0, "labelPadding": 8, "tickSize": 15, "tickWidth": 6, "tickColor": "black", "domainWidth": 6, "domainColor": "black"}},
  "xOffset": {"field": "group", "type": "nominal", "sort": null, "scale": {"domain": ["Sham","MMT"], "paddingInner": 0.34, "paddingOuter": 0}},
  "y": {"aggregate": "mean", "field": "value", "type": "quantitative", "scale": {"domain": [-150, 150], "nice": false},
   "axis": {"title": "Weight bearing difference (g)", "zindex": 1, "values": [-150,-100,-50,0,50,100,150], "labelOverlap": false, "grid": true, "gridColor": "black", "gridWidth": 6, "gridOpacity": {"condition": {"test": "datum.value === 0", "value": 1}, "value": 0}, "tickSize": 18, "tickWidth": 5, "tickColor": "black", "domainWidth": 6, "domainColor": "black", "labelFont": "Liberation Sans", "labelFontWeight": "bold", "labelFontSize": 37, "labelColor": "black", "labelPadding": 4, "titleFont": "Liberation Sans", "titleFontSize": 44, "titleFontWeight": "bold", "titleColor": "black", "titlePadding": 16}},
  "color": {"field": "group", "type": "nominal", "scale": {"domain": ["Sham","MMT"], "range": ["#000000","#FF5E5E"]}, "legend": null}
 }},
{"transform": [{"filter": "datum.panel === 'FW'"}, {"aggregate": [{"op": "mean", "field": "value", "as": "m"}, {"op": "stderr", "field": "value", "as": "se"}], "groupby": ["day","group"]}, {"calculate": "datum.m + datum.se", "as": "hi"}, {"calculate": "datum.m - datum.se", "as": "lo"}],
 "mark": {"type": "rule", "color": "black", "strokeWidth": 2},
 "encoding": {
  "x": {"field": "day", "type": "nominal", "sort": null},
  "xOffset": {"field": "group", "type": "nominal", "sort": null, "scale": {"domain": ["Sham","MMT"], "paddingInner": 0.34, "paddingOuter": 0}},
  "y": {"field": "lo", "type": "quantitative"},
  "y2": {"field": "hi"}
 }},
{"transform": [{"filter": "datum.panel === 'FW'"}, {"aggregate": [{"op": "mean", "field": "value", "as": "m"}, {"op": "stderr", "field": "value", "as": "se"}], "groupby": ["day","group"]}, {"calculate": "datum.m + datum.se", "as": "hi"}, {"calculate": "datum.m - datum.se", "as": "lo"}, {"fold": ["hi","lo"], "as": ["end","ev"]}],
 "mark": {"type": "tick", "color": "black", "thickness": 2, "opacity": 1},
 "encoding": {
  "x": {"field": "day", "type": "nominal", "sort": null},
  "xOffset": {"field": "group", "type": "nominal", "sort": null, "scale": {"domain": ["Sham","MMT"], "paddingInner": 0.34, "paddingOuter": 0}},
  "y": {"field": "ev", "type": "quantitative"},
  "size": {"value": 18}
 }},
{"transform": [{"filter": "datum.panel === 'FW'"},
  {"window": [{"op": "lag", "field": "value", "param": 1, "as": "prev"}], "groupby": ["day","group"], "sort": [{"field": "value", "order": "ascending"}]},
  {"calculate": "datum.prev == null || datum.value - datum.prev > 6.5 ? 1 : 0", "as": "brk"},
  {"window": [{"op": "sum", "field": "brk", "as": "run"}], "groupby": ["day","group"], "sort": [{"field": "value", "order": "ascending"}]},
  {"window": [{"op": "row_number", "as": "k"}], "groupby": ["day","group","run"], "sort": [{"field": "value", "order": "ascending"}]},
  {"joinaggregate": [{"op": "count", "as": "n"}], "groupby": ["day","group","run"]},
  {"calculate": "datum.group + '|' + (datum.n == 2 ? (datum.k == 1 ? 'l' : 'r') : ['c','r','l'][(datum.k - 1) % 3])", "as": "slot"}],
 "mark": {"type": "circle", "fill": "white", "strokeWidth": 3.3, "size": 105, "opacity": 1},
 "encoding": {
  "x": {"field": "day", "type": "nominal", "sort": null},
  "xOffset": {"field": "slot", "type": "nominal", "sort": null, "scale": {"domain": ["Sham|l","Sham|c","Sham|r","g1","g2","MMT|l","MMT|c","MMT|r"], "paddingInner": 0, "paddingOuter": 0}},
  "y": {"field": "value", "type": "quantitative"},
  "stroke": {"field": "group", "type": "nominal", "scale": {"domain": ["Sham","MMT"], "range": ["#000000","#FF5E5E"]}, "legend": null}
 }}
]
}
]
}
